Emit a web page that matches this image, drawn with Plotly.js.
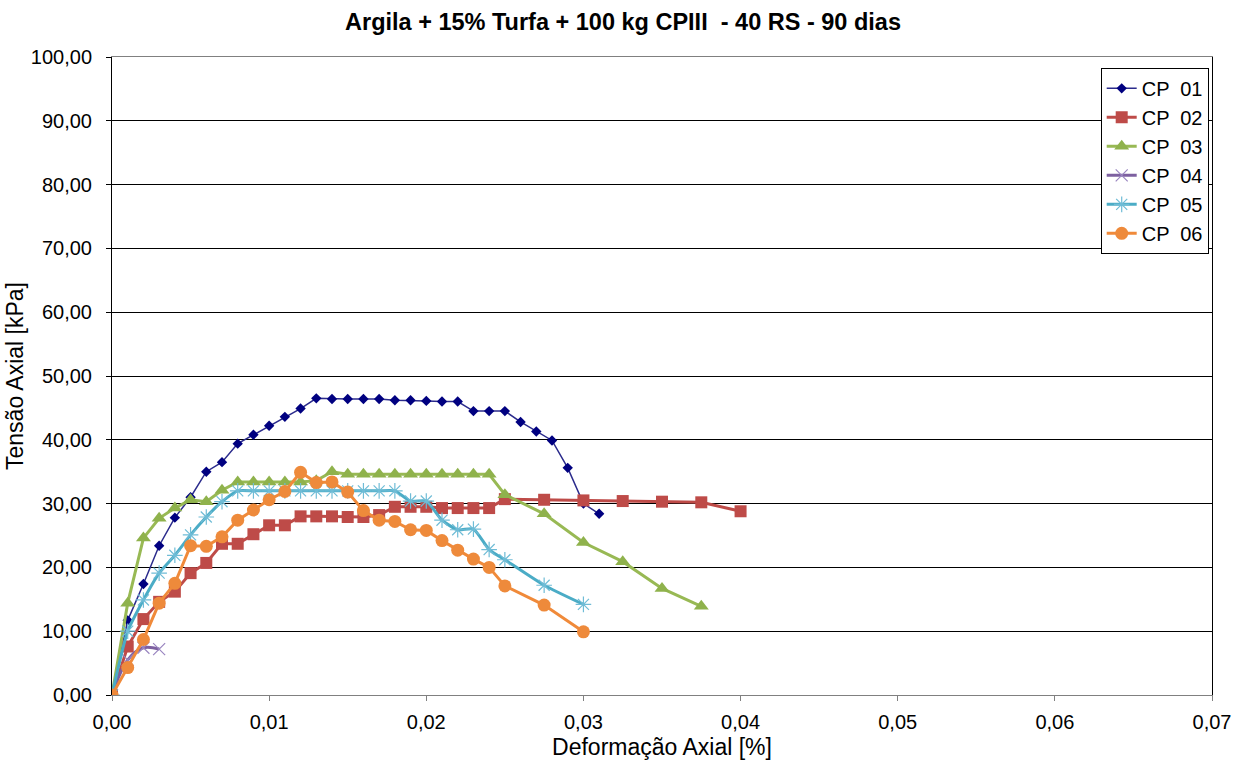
<!DOCTYPE html>
<html><head><meta charset="utf-8">
<script src="https://cdn.plot.ly/plotly-3.0.1.min.js"></script>
<style>body{margin:0;background:#fff}#c{width:1246px;height:771px}</style>
</head><body><div id="c"></div>
<script>
const cp01_x = [0,0.001,0.002,0.003,0.004,0.005,0.006,0.007,0.008,0.009,0.010,0.011,0.012,0.013,0.014,0.015,0.016,0.017,0.018,0.019,0.020,0.021,0.022,0.023,0.024,0.025,0.026,0.027,0.028,0.029,0.030,0.031];
const cp01_y = [0,11.7,17.4,23.4,27.8,31.0,35.0,36.5,39.4,40.8,42.2,43.6,44.9,46.5,46.4,46.4,46.4,46.4,46.2,46.2,46.1,46.0,46.0,44.5,44.5,44.5,42.8,41.3,39.9,35.6,30.0,28.4];

const cp02_x = [0,0.001,0.002,0.003,0.004,0.005,0.006,0.007,0.008,0.009,0.010,0.011,0.012,0.013,0.014,0.015,0.016,0.017,0.018,0.019,0.020,0.021,0.022,0.023,0.024,0.025,0.0275,0.030,0.0325,0.035,0.0375,0.040];
const cp02_y = [0,7.6,11.9,14.6,16.2,19.1,20.7,23.7,23.7,25.2,26.6,26.6,28.0,28.0,28.0,27.9,27.9,28.2,29.5,29.5,29.5,29.3,29.3,29.3,29.3,30.7,30.6,30.5,30.4,30.3,30.2,28.8];

const cp03_x = [0,0.001,0.002,0.003,0.004,0.005,0.006,0.007,0.008,0.009,0.010,0.011,0.012,0.013,0.014,0.015,0.016,0.017,0.018,0.019,0.020,0.021,0.022,0.023,0.024,0.025,0.0275,0.030,0.0325,0.035,0.0375];
const cp03_y = [0,14.4,24.6,27.7,29.3,30.6,30.3,32.1,33.4,33.4,33.4,33.4,33.4,33.6,35.0,34.6,34.6,34.6,34.6,34.6,34.6,34.6,34.6,34.6,34.6,31.4,28.4,23.9,20.9,16.7,13.9];

const cp04_x = [0,0.001,0.002,0.003];
const cp04_y = [0,5.5,7.4,7.2];

const cp05_x = [0,0.001,0.002,0.003,0.004,0.005,0.006,0.007,0.008,0.009,0.010,0.011,0.012,0.013,0.014,0.015,0.016,0.017,0.018,0.019,0.020,0.021,0.022,0.023,0.024,0.025,0.0275,0.030];
const cp05_y = [0,10.0,14.9,19.1,21.9,25.1,27.9,30.3,32.0,32.0,32.0,32.0,32.0,32.0,32.0,32.0,32.0,32.0,32.0,30.4,30.4,27.4,25.9,26.0,22.8,21.2,17.2,14.2];

const cp06_x = [0,0.001,0.002,0.003,0.004,0.005,0.006,0.007,0.008,0.009,0.010,0.011,0.012,0.013,0.014,0.015,0.016,0.017,0.018,0.019,0.020,0.021,0.022,0.023,0.024,0.025,0.0275,0.030];
const cp06_y = [0,4.3,8.7,14.4,17.5,23.4,23.3,24.8,27.4,29.0,30.6,31.9,34.9,33.3,33.4,31.8,28.9,27.4,27.2,25.9,25.8,24.2,22.7,21.3,20.0,17.1,14.1,9.9];

const names = ["CP  01","CP  02","CP  03","CP  04","CP  05","CP  06"];
const xTicks = [0,0.01,0.02,0.03,0.04,0.05,0.06,0.07];
const yTicks = [0,10,20,30,40,50,60,70,80,90,100];

const traces = [
  {x:cp01_x,y:cp01_y,name:names[0],mode:'lines+markers',line:{color:'#2B2B8C',width:1.5},marker:{symbol:'diamond',size:8,color:'#000080'}},
  {x:cp02_x,y:cp02_y,name:names[1],mode:'lines+markers',line:{color:'#BE4B48',width:3},marker:{symbol:'square',size:12,color:'#BE4B48'}},
  {x:cp03_x,y:cp03_y,name:names[2],mode:'lines+markers',line:{color:'#98B954',width:3},marker:{symbol:'triangle-up',size:13,color:'#8FB24C'}},
  {x:cp04_x,y:cp04_y,name:names[3],mode:'lines+markers',line:{color:'#7D60A0',width:3,shape:'spline'},marker:{symbol:'x-thin',size:12,line:{color:'#9A86C0',width:1.2}}},
  {x:cp05_x,y:cp05_y,name:names[4],mode:'lines+markers',line:{color:'#4BACC6',width:3,shape:'spline',smoothing:0.6},marker:{symbol:'asterisk',size:13,line:{color:'#6FBCD6',width:1.2}}},
  {x:cp06_x,y:cp06_y,name:names[5],mode:'lines+markers',line:{color:'#F08A3A',width:3},marker:{symbol:'circle',size:13,color:'#EE8A3B'}}
];

const layout = {
  width:1246,height:771,
  margin:{l:112,r:34,t:57,b:76},
  paper_bgcolor:'#fff',plot_bgcolor:'#fff',
  separators:', ',
  font:{family:'Liberation Sans, Arial, sans-serif',size:20,color:'#000'},
  title:{text:'<b>Argila + 15% Turfa + 100 kg CPIII  - 40 RS - 90 dias</b>',x:0.5,xanchor:'center',y:0.9715,yanchor:'middle',font:{size:23.5,color:'#000'}},
  xaxis:{range:[0,0.07],tickvals:xTicks,tickformat:'.2f',showgrid:false,zeroline:false,
    showline:true,linecolor:'#808080',linewidth:1,mirror:true,ticks:'outside',ticklen:5,tickcolor:'#808080',
    ticklabelstandoff:4,
    title:{text:'Deformação Axial [%]',font:{size:23},standoff:6}},
  yaxis:{range:[0,100],tickvals:yTicks,tickformat:'.2f',showgrid:true,gridcolor:'#000',gridwidth:1,zeroline:false,
    showline:true,linecolor:'#000',linewidth:1,mirror:true,ticks:'outside',ticklen:5,tickcolor:'#000',
    ticklabelstandoff:10,
    title:{text:'Tensão Axial [kPa]',font:{size:23},standoff:0}},
  legend:{x:0.997,xanchor:'right',y:0.983,yanchor:'top',bgcolor:'#fff',bordercolor:'#000',borderwidth:1,
    font:{size:20},tracegroupgap:0,itemwidth:30},
  showlegend:true
};
Plotly.newPlot('c',traces,layout,{displayModeBar:false});
</script></body></html>
